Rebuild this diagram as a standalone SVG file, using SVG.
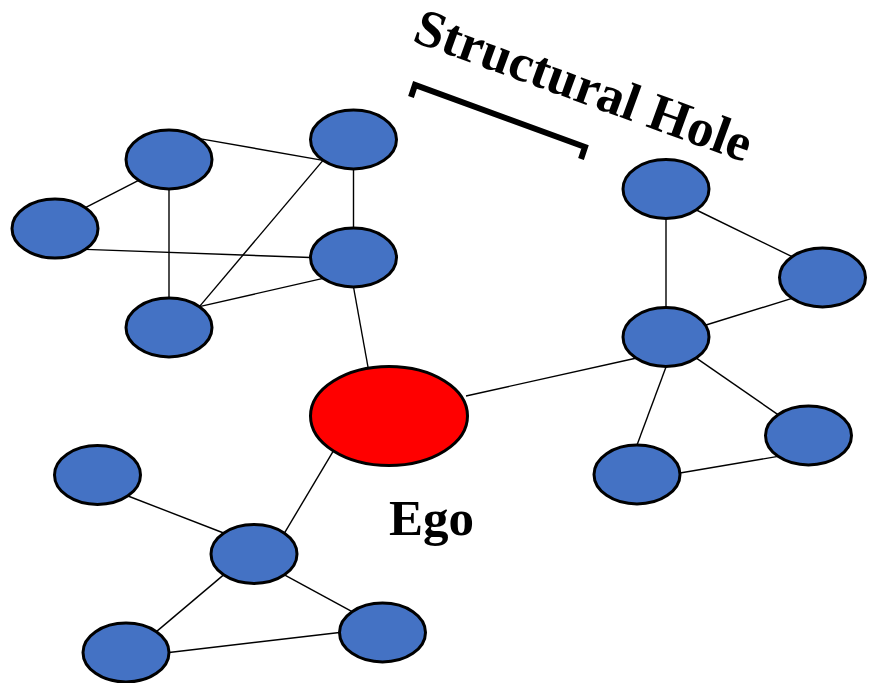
<svg xmlns="http://www.w3.org/2000/svg" width="874" height="683" viewBox="0 0 874 683">
<style>
.n{fill:#4472C4;stroke:#000;stroke-width:3}
.ego{fill:#FF0000;stroke:#000;stroke-width:3}
.e{stroke:#000;stroke-width:1.4;fill:none}
.t{font-family:"Liberation Serif","Times New Roman",serif;font-weight:bold;fill:#000}
</style>
<rect width="874" height="683" fill="#fff"/>
<g id="connectors">
<line class="e" x1="199.4" y1="138.6" x2="323" y2="160.4"/>
<line class="e" x1="138.6" y1="180.4" x2="85.4" y2="207.6"/>
<line class="e" x1="169" y1="189" x2="169" y2="298"/>
<line class="e" x1="353.5" y1="169" x2="353.5" y2="228"/>
<line class="e" x1="323" y1="160.4" x2="199.4" y2="306.6"/>
<line class="e" x1="85.4" y1="249.4" x2="310.5" y2="257.5"/>
<line class="e" x1="199.4" y1="306.6" x2="323.1" y2="278.4"/>
<line class="e" x1="353.5" y1="287" x2="368" y2="367"/>
<line class="e" x1="466" y1="396" x2="635.6" y2="358.2"/>
<line class="e" x1="666" y1="219" x2="666" y2="307"/>
<line class="e" x1="696.4" y1="210" x2="792" y2="256.6"/>
<line class="e" x1="792" y1="298.4" x2="706" y2="325"/>
<line class="e" x1="666" y1="367" x2="637" y2="445"/>
<line class="e" x1="696.4" y1="358.2" x2="778" y2="414.6"/>
<line class="e" x1="680" y1="473" x2="778" y2="456.4"/>
<line class="e" x1="128" y1="496" x2="223.6" y2="533"/>
<line class="e" x1="284.4" y1="533.1" x2="333.1" y2="451.4"/>
<line class="e" x1="223.6" y1="574.9" x2="156.4" y2="631.6"/>
<line class="e" x1="284.4" y1="574.9" x2="352.1" y2="611.6"/>
<line class="e" x1="169" y1="652.5" x2="339.5" y2="632.5"/>
</g>
<g id="n1"><ellipse class="n" cx="169" cy="159.5" rx="43" ry="29.5"/></g>
<g id="n2"><ellipse class="n" cx="353.5" cy="139.5" rx="43" ry="29.5"/></g>
<g id="n3"><ellipse class="n" cx="55" cy="228.5" rx="43" ry="29.5"/></g>
<g id="n4"><ellipse class="n" cx="353.5" cy="257.5" rx="43" ry="29.5"/></g>
<g id="n5"><ellipse class="n" cx="169" cy="327.5" rx="43" ry="29.5"/></g>
<g id="n6"><ellipse class="n" cx="666" cy="189" rx="43" ry="29.5"/></g>
<g id="n7"><ellipse class="n" cx="822.5" cy="277.5" rx="43" ry="29.5"/></g>
<g id="n8"><ellipse class="n" cx="666" cy="337" rx="43" ry="29.5"/></g>
<g id="n9"><ellipse class="n" cx="808.5" cy="435.5" rx="43" ry="29.5"/></g>
<g id="n10"><ellipse class="n" cx="637" cy="474.5" rx="43" ry="29.5"/></g>
<g id="n11"><ellipse class="n" cx="97.5" cy="475" rx="43" ry="29.5"/></g>
<g id="n12"><ellipse class="n" cx="254" cy="554" rx="43" ry="29.5"/></g>
<g id="n13"><ellipse class="n" cx="126" cy="652.5" rx="43" ry="29.5"/></g>
<g id="n14"><ellipse class="n" cx="382.5" cy="632.5" rx="43" ry="29.5"/></g>
<g id="ego"><ellipse class="ego" cx="389" cy="416" rx="78.5" ry="49.5"/>
<text class="t" x="431.5" y="535" font-size="51" text-anchor="middle">Ego</text></g>
<g id="hole">
<path d="M411,97 L415,85 L585,147 L581,159" fill="none" stroke="#000" stroke-width="6" stroke-linejoin="miter"/>
<text class="t" x="411" y="41" font-size="53" transform="rotate(20 411 41)">Structural Hole</text>
</g>
</svg>
